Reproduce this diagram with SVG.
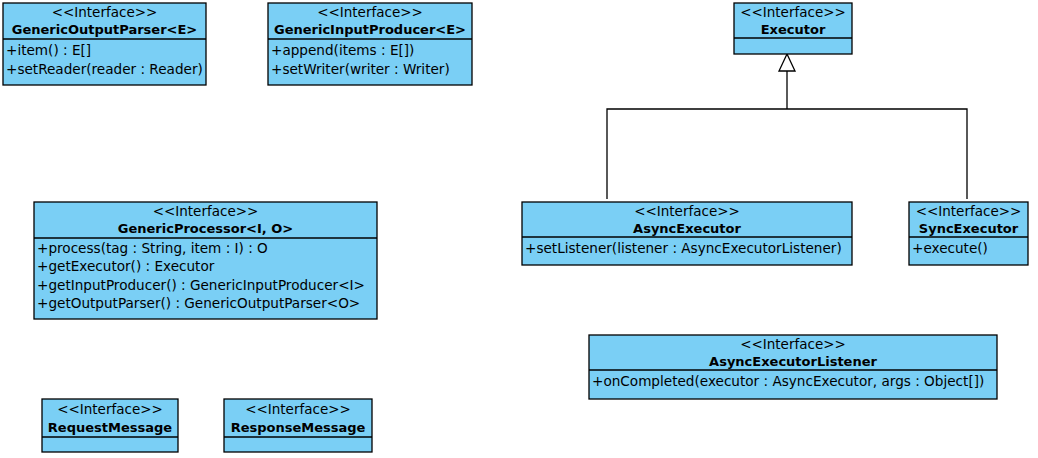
<svg xmlns="http://www.w3.org/2000/svg" width="1038" height="458" viewBox="0 0 1038 458">
<defs>
<style>
.box{fill:#7acff5;stroke:#000;stroke-width:1.3}
.div{stroke:#000;stroke-width:1.3}
.st{font-family:"DejaVu Sans",sans-serif;font-size:13.5px;fill:#000;text-anchor:middle}
.nm{font-family:"DejaVu Sans",sans-serif;font-size:13px;font-weight:bold;fill:#000;text-anchor:middle}
.op{font-family:"DejaVu Sans",sans-serif;font-size:13.6px;fill:#000}
.ln{fill:none;stroke:#000;stroke-width:1.3}
</style>
</defs>
<rect width="1038" height="458" fill="#fff"/>
<g id="connectors">
<path class="ln" d="M607,199 V109 H967 V199"/>
<path class="ln" d="M787,109 V71"/>
<path d="M787,54 L795,71 L779,71 Z" fill="#fff" stroke="#000" stroke-width="1.3"/>
</g>
<g id="GenericOutputParser">
<rect class="box" x="3" y="3" width="203" height="82"/>
<line class="div" x1="3" y1="39" x2="206" y2="39"/>
<text class="st" x="104.5" y="17">&lt;&lt;Interface&gt;&gt;</text>
<text class="nm" x="104.5" y="34">GenericOutputParser&lt;E&gt;</text>
<text class="op" x="6" y="55">+item() : E[]</text>
<text class="op" x="6" y="74">+setReader(reader : Reader)</text>
</g>
<g id="GenericInputProducer">
<rect class="box" x="268" y="3" width="204" height="82"/>
<line class="div" x1="268" y1="39" x2="472" y2="39"/>
<text class="st" x="370" y="17">&lt;&lt;Interface&gt;&gt;</text>
<text class="nm" x="370" y="34">GenericInputProducer&lt;E&gt;</text>
<text class="op" x="271" y="55">+append(items : E[])</text>
<text class="op" x="271" y="74">+setWriter(writer : Writer)</text>
</g>
<g id="Executor">
<rect class="box" x="734" y="3" width="118" height="51"/>
<line class="div" x1="734" y1="38" x2="852" y2="38"/>
<text class="st" x="793" y="17">&lt;&lt;Interface&gt;&gt;</text>
<text class="nm" x="793" y="34">Executor</text>
</g>
<g id="GenericProcessor">
<rect class="box" x="34" y="202" width="343" height="117"/>
<line class="div" x1="34" y1="238" x2="377" y2="238"/>
<text class="st" x="205.5" y="216">&lt;&lt;Interface&gt;&gt;</text>
<text class="nm" x="205.5" y="233">GenericProcessor&lt;I, O&gt;</text>
<text class="op" x="37" y="253">+process(tag : String, item : I) : O</text>
<text class="op" x="37" y="271">+getExecutor() : Executor</text>
<text class="op" x="37" y="290">+getInputProducer() : GenericInputProducer&lt;I&gt;</text>
<text class="op" x="37" y="308">+getOutputParser() : GenericOutputParser&lt;O&gt;</text>
</g>
<g id="AsyncExecutor">
<rect class="box" x="522" y="202" width="330" height="63"/>
<line class="div" x1="522" y1="237" x2="852" y2="237"/>
<text class="st" x="687" y="216">&lt;&lt;Interface&gt;&gt;</text>
<text class="nm" x="687" y="233">AsyncExecutor</text>
<text class="op" x="525" y="253">+setListener(listener : AsyncExecutorListener)</text>
</g>
<g id="SyncExecutor">
<rect class="box" x="909" y="202" width="119" height="63"/>
<line class="div" x1="909" y1="237" x2="1028" y2="237"/>
<text class="st" x="968.5" y="216">&lt;&lt;Interface&gt;&gt;</text>
<text class="nm" x="968.5" y="233">SyncExecutor</text>
<text class="op" x="912" y="253">+execute()</text>
</g>
<g id="AsyncExecutorListener">
<rect class="box" x="589" y="335" width="408" height="64"/>
<line class="div" x1="589" y1="370" x2="997" y2="370"/>
<text class="st" x="793" y="349">&lt;&lt;Interface&gt;&gt;</text>
<text class="nm" x="793" y="366">AsyncExecutorListener</text>
<text class="op" x="592" y="386">+onCompleted(executor : AsyncExecutor, args : Object[])</text>
</g>
<g id="RequestMessage">
<rect class="box" x="42" y="399" width="136" height="53"/>
<line class="div" x1="42" y1="437" x2="178" y2="437"/>
<text class="st" x="110" y="414">&lt;&lt;Interface&gt;&gt;</text>
<text class="nm" x="110" y="432">RequestMessage</text>
</g>
<g id="ResponseMessage">
<rect class="box" x="224" y="399" width="148" height="53"/>
<line class="div" x1="224" y1="437" x2="372" y2="437"/>
<text class="st" x="298" y="414">&lt;&lt;Interface&gt;&gt;</text>
<text class="nm" x="298" y="432">ResponseMessage</text>
</g>
</svg>
